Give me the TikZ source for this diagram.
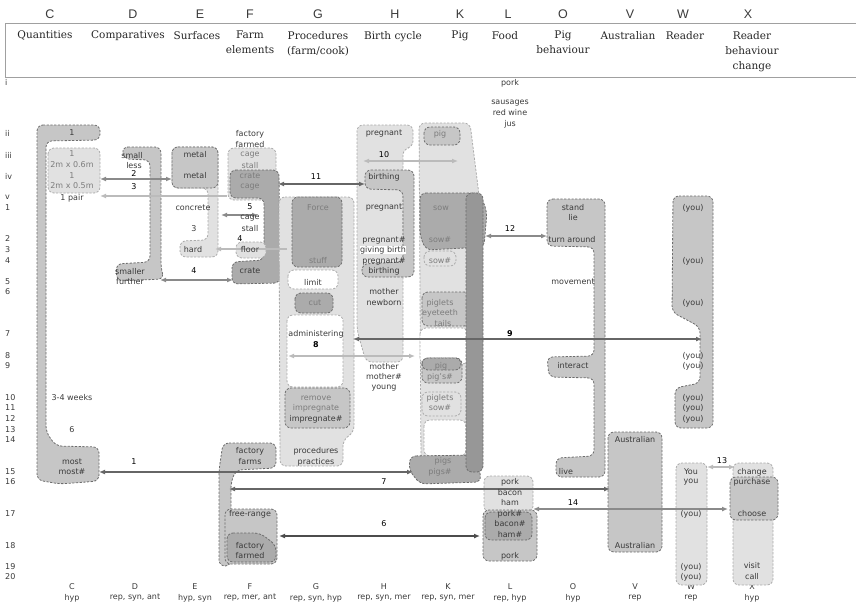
\documentclass[tikz,border=0pt]{standalone}
\usepackage{fontspec}
\setmainfont{DejaVu Serif}
\setsansfont{DejaVu Sans}
\newfontfamily\letterfont{Liberation Sans}
\usepackage{xcolor}
\usepackage{tikz}
\usetikzlibrary{arrows.meta}
\definecolor{blobdeeper}{HTML}{979797}
\definecolor{blobdark}{HTML}{ABABAB}
\definecolor{blobmid}{HTML}{C6C6C6}
\definecolor{bloblight}{HTML}{E1E1E1}
\definecolor{edgedark}{HTML}{6C6C6C}
\definecolor{edgelight}{HTML}{ABABAB}
\definecolor{linkdark}{HTML}{666666}
\definecolor{linkmid}{HTML}{8A8A8A}
\definecolor{linklight}{HTML}{BBBBBB}
\definecolor{txtdark}{HTML}{3A3A3A}
\definecolor{txtgray}{HTML}{7C7C7C}
\definecolor{rulegray}{HTML}{A0A0A0}

\begin{document}
\begin{tikzpicture}[x=1pt, y=-1pt,
  blob/.style={draw=edgedark, fill=blobmid, line width=0.8pt, dash pattern=on 2.2pt off 1.5pt, rounded corners=6pt},
  pale/.style={blob, draw=edgelight, fill=bloblight},
  deep/.style={blob, fill=blobdark},
  hole/.style={blob, draw=edgelight, fill=white},
  lbl/.style={font=\sffamily\fontsize{8}{10.5}\selectfont, text=txtdark, inner sep=0.5pt},
  dim/.style={lbl, text=txtgray},
  numlab/.style={lbl, text=black},
  collet/.style={font=\letterfont\fontsize{12.5}{14}\selectfont, text=txtdark},
  coltitle/.style={font=\fontsize{10.5}{15}\selectfont, text=black!85, align=center, anchor=north, inner sep=0pt},
  rowlab/.style={font=\sffamily\fontsize{8}{9}\selectfont, text=txtdark, anchor=west, inner sep=0pt},
  footlab/.style={font=\sffamily\fontsize{8}{9}\selectfont, text=txtdark, inner sep=0pt},
  twoway/.style={{Latex[length=6pt,width=5pt]}-{Latex[length=6pt,width=5pt]}, line width=1.5pt},
  oneway/.style={-{Latex[length=6pt,width=5pt]}, line width=1.5pt}]
\useasboundingbox (0,0) rectangle (856,602);

% --- Header ---
\foreach \x/\c in {50/C, 133/D, 200/E, 250/F, 318/G, 395/H, 460/K, 508/L, 563/O, 630/V, 683/W, 748/X}
  \node[collet] (col\c) at (\x,14) {\c};
\draw[rulegray, line width=0.8pt] (856,23) -- (5,23) -- (5,77) -- (856,77);
\foreach \x/\t [count=\i] in {45/Quantities, 128/Comparatives, 197/Surfaces, 250/{Farm\\elements},
    318/{Procedures\\(farm/cook)}, 393/Birth cycle, 460/Pig, 505/Food, 563/{Pig\\behaviour},
    628/Australian, 685/Reader, 752/{Reader\\behaviour\\change}}
  \node[coltitle] (title\i) at (\x,31) {\t};

% --- Row and column keys ---
\foreach \y/\r in {82/i, 133/ii, 155/iii, 176/iv, 197/v, 208/1, 239/2, 250/3, 261/4, 282/5, 292/6,
    334/7, 356/8, 366/9, 398/10, 408/11, 419/12, 430/13, 440/14, 472/15, 482/16, 514/17, 546/18, 567/19, 577/20}
  \node[rowlab] (row\r) at (5,\y) {\r};
\foreach \x/\c/\t in {72/C/hyp, 135/D/{rep, syn, ant}, 195/E/{hyp, syn}, 250/F/{rep, mer, ant},
    316/G/{rep, syn, hyp}, 384/H/{rep, syn, mer}, 448/K/{rep, syn, mer}, 510/L/{rep, hyp},
    573/O/hyp, 635/V/rep, 691/W/rep, 752/X/hyp} {
  \node[footlab] (foot\c) at (\x,587) {\c};
  \node[footlab] (rel\c) at (\x,598) {\t};
}

% --- Quantities (C) ---
\draw[blob] (37,125) -- (100,125) -- (100,140) -- (46,141) -- (46,432) -- (56,446) -- (99,447)
  -- (99,481) -- (60,484) -- (37,480) -- cycle;
\draw[pale] (48,148) rectangle (100,193);

% --- Comparatives (D) ---
\draw[blob] (122,147) -- (161,147) -- (161,268) -- (164,279) -- (117,281) -- (116,264) -- (150,262)
  -- (150,160) -- (124,159) -- cycle;

% --- Surfaces (E) ---
\draw[pale] (172,147) -- (218,147) -- (218,257) -- (180,257) -- (180,241) -- (208,240) -- (208,188)
  -- (172,188) -- cycle;
\draw[blob] (172,147) rectangle (218,188);

% --- Farm elements (F) ---
\draw[pale] (228,148) rectangle (276,200);
\draw[deep] (230,170) -- (279,170) -- (280,283) -- (232,284) -- (232,262) -- (264,260) -- (264,198)
  -- (230,198) -- cycle;
\draw[pale] (236,242) rectangle (266,258);
\draw[blob] (223,443) -- (276,443) -- (276,468) -- (236,470) -- (231,482) -- (231,566) -- (219,566)
  -- (219,470) -- cycle;
\draw[blob] (225,509) rectangle (277,564);
\draw[deep] (227,533) -- (260,533) -- (276,545) -- (276,562) -- (227,562) -- cycle;

% --- Procedures (G) ---
\draw[pale] (279,197) -- (354,197) -- (354,432) -- (343,440) -- (343,466) -- (280,466) -- cycle;
\draw[deep] (292,197) rectangle (342,267);
\draw[hole] (288,270) rectangle (338,289);
\draw[deep] (295,293) rectangle (333,313);
\draw[hole] (287,315) rectangle (343,387);
\draw[blob] (285,388) rectangle (350,428);

% --- Birth cycle (H) ---
\draw[pale] (357,125) -- (413,125) -- (413,147) -- (403,149) -- (403,362) -- (366,362) -- (357,330) -- cycle;
\draw[blob] (365,170) -- (414,170) -- (414,277) -- (362,277) -- (362,264) -- (403,262) -- (403,190)
  -- (365,189) -- cycle;

% --- Pig (K) ---
\draw[pale] (419,123) -- (470,123) -- (479,195) -- (479,462) -- (421,462) -- cycle;
\draw[blob] (424,127) rectangle (460,145);
\draw[deep] (420,193) -- (480,193) -- (487,212) -- (484,247) -- (426,250) -- (420,236) -- cycle;
\draw[pale] (424,251) rectangle (456,266);
\draw[blob] (422,292) rectangle (470,326);
\draw[hole] (420,328) rectangle (468,364);
\draw[blob] (422,358) rectangle (462,383);
\draw[deep] (422,358) rectangle (461,370);
\draw[pale] (422,392) rectangle (461,416);
\draw[hole] (424,420) rectangle (466,456);
\draw[deep] (410,456) -- (478,455) -- (481,482) -- (420,484) -- (409,470) -- cycle;
\draw[deep, fill=blobdeeper] (466,193) rectangle (483,472);

% --- Food (L) ---
\draw[pale] (484,476) rectangle (533,512);
\draw[blob] (483,510) rectangle (537,561);
\draw[deep] (485,512) rectangle (532,540);

% --- Pig behaviour (O) ---
\draw[blob] (547,199) -- (605,199) -- (605,477) -- (556,477) -- (556,458) -- (594,456) -- (594,378)
  -- (549,377) -- (547,357) -- (594,356) -- (594,247) -- (547,246) -- cycle;

% --- Australian (V) ---
\draw[blob] (608,432) rectangle (662,552);

% --- Reader (W) and reader behaviour change (X) ---
\draw[blob] (673,196) -- (713,196) -- (713,428) -- (675,428) -- (675,388) -- (700,383) -- (700,327)
  -- (672,312) -- cycle;
\draw[pale] (676,463) rectangle (707,585);
\draw[pale] (733,463) rectangle (773,585);
\draw[blob] (730,477) rectangle (778,520);

% --- Links ---
\coordinate (q1) at (99,472);   \coordinate (k1) at (413,472);
\coordinate (q2) at (100,179);  \coordinate (e2) at (172,179);
\coordinate (f3) at (227,196);  \coordinate (q3) at (100,196);
\coordinate (d4) at (160,280);  \coordinate (f4) at (233,280);
\coordinate (g4) at (287,249);  \coordinate (e4) at (215,249);
\coordinate (e5) at (221,215);  \coordinate (f5) at (258,215);
\coordinate (f6) at (279,536);  \coordinate (l6) at (480,536);
\coordinate (f7) at (229,489);  \coordinate (v7) at (610,489);
\coordinate (g8) at (288,356);  \coordinate (k8) at (415,356);
\coordinate (g9) at (353,339);  \coordinate (w9) at (702,339);
\coordinate (h10) at (363,161); \coordinate (k10) at (458,161);
\coordinate (f11) at (278,184); \coordinate (h11) at (365,184);
\coordinate (k12) at (485,236); \coordinate (o12) at (547,236);
\coordinate (w13) at (707,467); \coordinate (x13) at (735,467);
\coordinate (l14) at (533,509); \coordinate (x14) at (728,509);
\draw[twoway, linkdark] (q1) -- (k1);
\draw[twoway, linkmid] (q2) -- (e2);
\draw[oneway, linklight] (f3) -- (q3);
\draw[twoway, linkmid] (d4) -- (f4);
\draw[oneway, linklight] (g4) -- (e4);
\draw[twoway, linkmid] (e5) -- (f5);
\draw[twoway, black!70] (f6) -- (l6);
\draw[twoway, linkdark] (f7) -- (v7);
\draw[twoway, linklight] (g8) -- (k8);
\draw[twoway, linkdark] (g9) -- (w9);
\draw[twoway, linklight] (h10) -- (k10);
\draw[twoway, linkdark] (f11) -- (h11);
\draw[twoway, linkmid] (k12) -- (o12);
\draw[twoway, linklight] (w13) -- (x13);
\draw[twoway, linkmid] (l14) -- (x14);
\foreach \x/\y/\t in {134/462/1, 134/174/2, 134/187/3, 194/271/4, 240/239/4, 250/207/5, 384/524/6,
    384/482/7, 384/155/10, 316/177/11, 510/229/12, 722/461/13, 573/503/14}
  \node[numlab] (link\t at \y) at (\x,\y) {\t};
\node[numlab, font=\sffamily\bfseries\fontsize{8}{10.5}\selectfont] (link8) at (316,345) {8};
\node[numlab, font=\sffamily\bfseries\fontsize{8}{10.5}\selectfont] (link9) at (510,334) {9};

% --- Words ---
\foreach \y/\t [count=\i] in {133/1, 198/1 pair, 398/3-4 weeks, 430/6, 462/most, 472/most\#}
  \node[lbl] (qty\i) at (72,\y) {\t};
\foreach \y/\t [count=\i] in {154/1, 165/2m x 0.6m, 176/1, 186/2m x 0.5m}
  \node[dim] (qtyin\i) at (72,\y) {\t};
\foreach \x/\y/\t [count=\i] in {132/156/small, 134/166/less, 130/272/smaller, 130/282/further}
  \node[lbl] (cmp\i) at (\x,\y) {\t};
\foreach \x/\y/\t [count=\i] in {195/155/metal, 195/176/metal, 193/208/concrete, 194/229/3, 193/250/hard}
  \node[lbl] (srf\i) at (\x,\y) {\t};
\foreach \x/\y/\t [count=\i] in {250/134/factory, 250/145/farmed, 250/218/cage, 250/229/stall,
    250/250/floor, 250/271/crate, 250/451/factory, 250/462/farms, 250/514/free-range,
    250/546/factory, 250/556/farmed}
  \node[lbl] (frm\i) at (\x,\y) {\t};
\foreach \y/\t [count=\i] in {155/cage, 166/stall, 176/crate, 187/cage}
  \node[dim] (frmin\i) at (250,\y) {\t};
\foreach \x/\y/\t [count=\i] in {318/208/Force, 318/261/stuff, 315/303/cut, 316/398/remove, 316/408/impregnate}
  \node[dim] (prcin\i) at (\x,\y) {\t};
\foreach \x/\y/\t [count=\i] in {313/282/limit, 316/334/administering, 316/419/impregnate\#,
    316/451/procedures, 316/462/practices}
  \node[lbl] (prc\i) at (\x,\y) {\t};
\foreach \y/\t [count=\i] in {134/pregnant, 177/birthing, 208/pregnant, 240/pregnant\#, 261/pregnant\#,
    271/birthing, 292/mother, 303/newborn, 367/mother, 377/mother\#, 388/young}
  \node[lbl] (brt\i) at (384,\y) {\t};
\node[lbl, fill=white] (brtgiving) at (383,250) {giving birth};
\foreach \x/\y/\t [count=\i] in {440/134/pig, 441/208/sow, 440/240/sow\#, 440/261/sow\#, 440/303/piglets,
    440/313/eyeteeth, 443/324/tails, 441/366/pig, 440/377/pig's\#, 440/398/piglets, 440/408/sow\#,
    443/461/pigs, 440/472/pigs\#}
  \node[dim] (pig\i) at (\x,\y) {\t};
\foreach \y/\t [count=\i] in {83/pork, 103/sausages, 113/red wine, 124/jus, 482/pork, 493/bacon, 503/ham,
    514/pork\#, 524/bacon\#, 535/ham\#, 556/pork}
  \node[lbl] (food\i) at (510,\y) {\t};
\foreach \x/\y/\t [count=\i] in {573/208/stand, 573/218/lie, 572/240/turn around, 573/282/movement,
    573/366/interact, 566/472/live}
  \node[lbl] (beh\i) at (\x,\y) {\t};
\node[lbl] (aus1) at (635,440) {Australian};
\node[lbl] (aus2) at (635,546) {Australian};
\foreach \y [count=\i] in {208, 261, 303, 356, 366, 398, 408, 419}
  \node[lbl] (you\i) at (693,\y) {(you)};
\foreach \y/\t [count=\i] in {472/You, 482/you, 514/(you), 567/(you), 577/(you)}
  \node[lbl] (rdr\i) at (691,\y) {\t};
\foreach \y/\t [count=\i] in {472/change, 482/purchase, 514/choose, 566/visit, 577/call}
  \node[lbl] (chg\i) at (752,\y) {\t};
\end{tikzpicture}
\end{document}
